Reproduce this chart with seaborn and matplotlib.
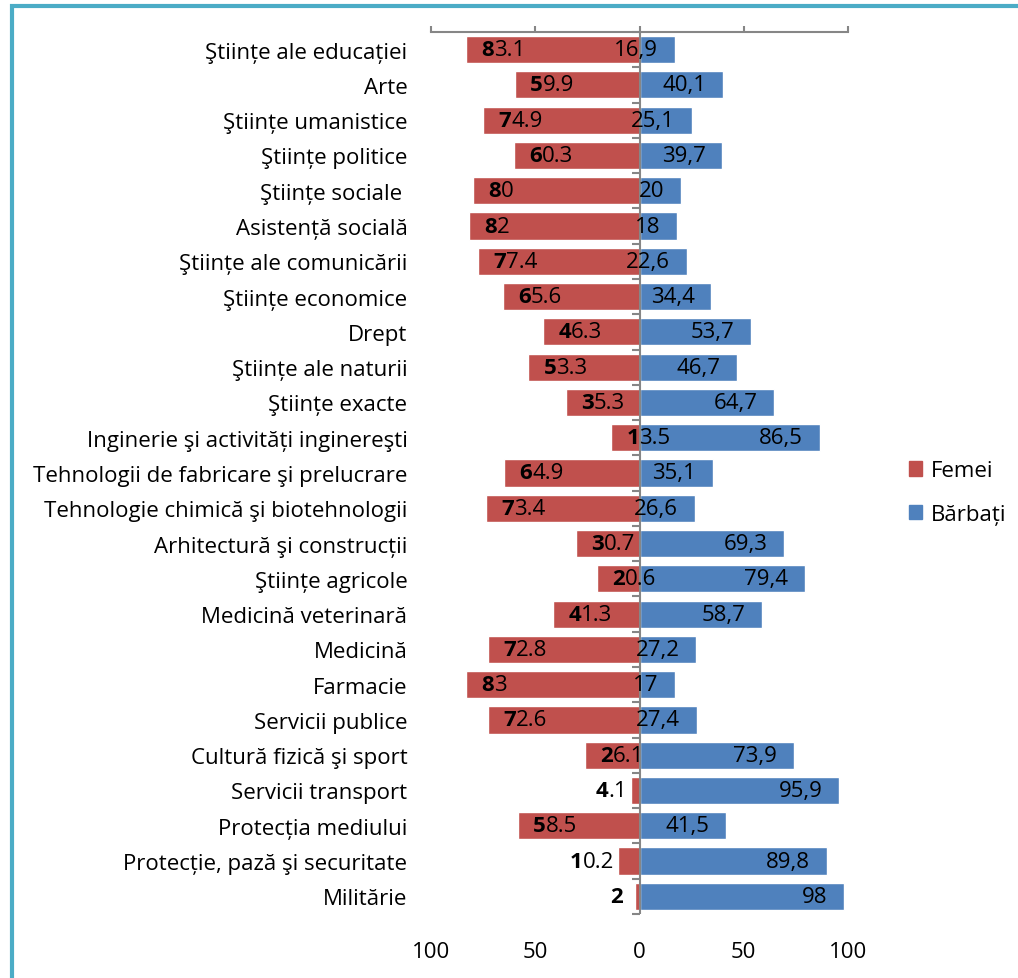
import numpy as np
import pandas as pd
import matplotlib.pyplot as plt
import matplotlib.patches as mpatches
import seaborn as sns

# date: pondere femei / barbati pe domenii (%)
domenii = ['Ştiințe ale educației', 'Arte', 'Ştiințe umanistice', 'Ştiințe politice',
           'Ştiințe sociale ', 'Asistență socială', 'Ştiințe ale comunicării',
           'Ştiințe economice', 'Drept', 'Ştiințe ale naturii', 'Ştiințe exacte',
           'Inginerie şi activități inginereşti', 'Tehnologii de fabricare şi prelucrare',
           'Tehnologie chimică şi biotehnologii', 'Arhitectură şi construcții',
           'Ştiințe agricole', 'Medicină veterinară', 'Medicină', 'Farmacie',
           'Servicii publice', 'Cultură fizică şi sport', 'Servicii transport',
           'Protecția mediului', 'Protecție, pază şi securitate', 'Militărie']
femei = [83.1, 59.9, 74.9, 60.3, 80, 82, 77.4, 65.6, 46.3, 53.3, 35.3, 13.5, 64.9,
         73.4, 30.7, 20.6, 41.3, 72.8, 83, 72.6, 26.1, 4.1, 58.5, 10.2, 2]
barbati = [16.9, 40.1, 25.1, 39.7, 20, 18, 22.6, 34.4, 53.7, 46.7, 64.7, 86.5, 35.1,
           26.6, 69.3, 79.4, 58.7, 27.2, 17, 27.4, 73.9, 95.9, 41.5, 89.8, 98]
tick_vals = [-100, -50, 0, 50, 100]
tick_labels = ['100', '50', '0', '50', '100']
serii = ['Femei', 'Bărbați']

RED = '#C0504D'
BLUE = '#4F81BD'
GRAY = '#868686'
FS = 16

sns.set_style('white')
plt.rcParams['font.family'] = ['Open Sans', 'DejaVu Sans']
plt.rcParams['text.color'] = 'black'
plt.rcParams['xtick.labelcolor'] = 'black'
plt.rcParams['ytick.labelcolor'] = 'black'

df = pd.DataFrame({'domeniu': domenii,
                   'femei': [-v for v in femei],
                   'barbati': barbati})

fig = plt.figure(figsize=(10.18, 9.79), dpi=100)
ax = fig.add_axes([0.4234, 0.0654, 0.4096, 0.9009])

sns.barplot(data=df, x='femei', y='domeniu', color=RED, width=0.77,
            saturation=1, orient='h', errorbar=None, ax=ax)
sns.barplot(data=df, x='barbati', y='domeniu', color=BLUE, width=0.77,
            saturation=1, orient='h', errorbar=None, ax=ax)

n = len(domenii)
ax.set_xlim(-100, 100)
ax.set_ylim(n - 0.5, -0.5)
ax.set_xlabel('')
ax.set_ylabel('')

# axa verticala la zero + mici gradatii intre categorii
ax.axvline(0, color=GRAY, lw=1.5, zorder=3)
ax.plot(np.zeros(n + 1), np.arange(n + 1) - 0.5, ls='none', marker=0, ms=6,
        mew=1.5, color=GRAY, clip_on=False, zorder=3)

# etichete femei: prima cifra ingrosata
for i, v in enumerate(femei):
    s = f'{v:g}'
    first, rest = s[0], s[1:]
    if v >= 12:
        t1 = ax.annotate(first, xy=(-v, i), xytext=(11, 0), textcoords='offset points',
                         ha='left', va='center', fontsize=FS, fontweight='bold')
        if rest:
            ax.annotate(rest, xy=(1, 0), xycoords=t1, ha='left', va='bottom', fontsize=FS)
    else:
        off = -3 if rest else -9
        if rest:
            t2 = ax.annotate(rest, xy=(-v, i), xytext=(off, 0), textcoords='offset points',
                             ha='right', va='center', fontsize=FS)
            ax.annotate(first, xy=(0, 0), xycoords=t2, ha='right', va='bottom',
                        fontsize=FS, fontweight='bold')
        else:
            ax.annotate(first, xy=(-v, i), xytext=(off, 0), textcoords='offset points',
                        ha='right', va='center', fontsize=FS, fontweight='bold')

# etichete barbati
for i, v in enumerate(barbati):
    ax.annotate(f'{v:g}'.replace('.', ','), xy=(v, i), xytext=(-12, 0),
                textcoords='offset points', ha='right', va='center', fontsize=FS)

# axa x: linie si gradatii sus, valori jos
for sp in ['left', 'right', 'bottom']:
    ax.spines[sp].set_visible(False)
ax.spines['top'].set_color(GRAY)
ax.spines['top'].set_linewidth(1.5)
ax.set_xticks(tick_vals)
ax.set_xticklabels(tick_labels)
ax.tick_params(axis='x', top=True, bottom=False, labeltop=False, labelbottom=True,
               direction='out', length=4.5, width=1.5, color=GRAY, pad=15, labelsize=FS)
ax.tick_params(axis='y', length=0, pad=17, labelsize=FS)

handles = [mpatches.Patch(color=RED, label=serii[0]),
           mpatches.Patch(color=BLUE, label=serii[1])]
fig.legend(handles=handles, loc='center left', bbox_to_anchor=(0.873, 0.496),
           frameon=False, fontsize=FS, handlelength=0.6, handleheight=0.6,
           handletextpad=0.4, labelspacing=1.0)

# chenar
fig.patches.append(mpatches.Rectangle((12 / 1018, -0.1), 1.2, 1.1 - 7 / 979,
                                      transform=fig.transFigure, fill=False,
                                      edgecolor='#4BACC6', lw=3, clip_on=False))

plt.savefig('out.png', dpi=100)
